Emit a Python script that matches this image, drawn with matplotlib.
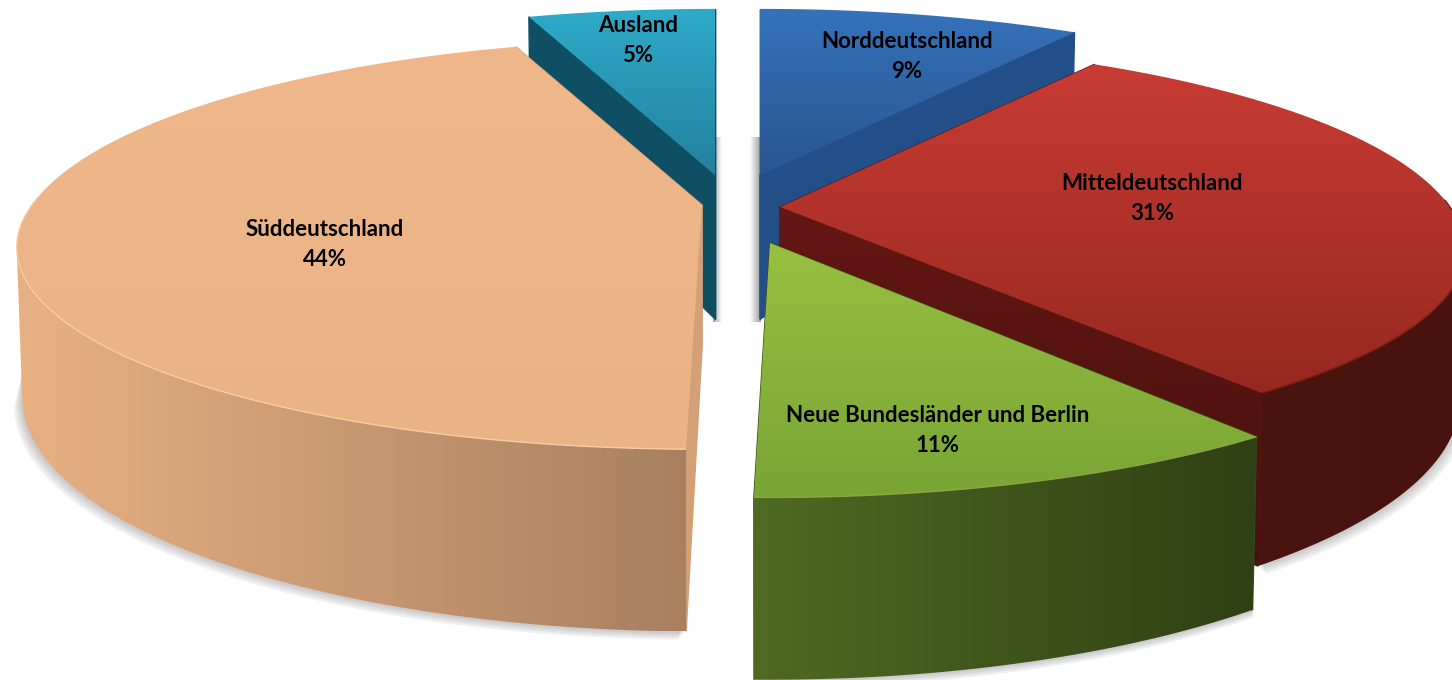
import numpy as np
import matplotlib.pyplot as plt
from matplotlib.colors import LinearSegmentedColormap
from matplotlib.patches import Polygon

# chart values, clockwise from 12 o'clock (slice sizes before rounding, printed percents)
names = ['Norddeutschland', 'Mitteldeutschland', 'Neue Bundesländer und Berlin', 'Süddeutschland', 'Ausland']
values = [9.3, 30.5, 10.5, 44.3, 5.4]
percents = [9, 31, 11, 44, 5]

# look of each slice: exploded offset in px, gradients, label centre
offset_x = [20, 40, 30, -38, -25]
offset_y = [-30, 2, 38, 0, -30]
stretch_x = [1, 1, 1.01, 1, 1]
stretch_y = [1, 0.96, 1, 0.96, 1]
top_colors = [('#3672bb', '#28568f'), ('#c83c34', '#96281f'), ('#98c040', '#78a535'), ('#efb78a', '#eab385'), ('#2fabca', '#23809e')]
side_colors = [('#1e5a96', '#1e4f86'), ('#4a1410', '#48120e'), ('#4f6a22', '#2f4014'), ('#e8b183', '#a88060'), ('#0f5066', '#0f5066')]
cut_colors = [('#234f88', '#234f88'), ('#641714', '#46110d'), ('#3a4e18', '#3a4e18'), ('#d4a075', '#d4a075'), ('#0f4f64', '#0f4f64')]
rim_colors = ['#3672bb', '#7a1e18', '#8aa840', '#f8cc9e', '#2fabca']
label_x = [907, 1152, 938, 325, 638]
label_y = [42, 183, 415, 229, 26]
draw_order = [4, 0, 3, 1, 2]

W, H = 1452, 680
cx, cy = 740, 205
rx, ry, persp = 670, 201, 0.21
depth = 144
# angles where the rim turns back, the wall is only seen between them
wall_from = np.arccos(-persp)
wall_to = 2*np.pi - wall_from


def project(theta, i, z=0.0):
    X, Y = np.sin(theta), np.cos(theta)
    w = 1 + persp*Y
    shrink = 1 - 0.008*z
    # the front half of some slices is a bit shorter than the back
    sy = np.where(Y < 0, stretch_y[i], 1.0)
    px = offset_x[i] + cx + stretch_x[i]*shrink*rx*X/w
    py = offset_y[i] + cy - sy*ry*Y/w + z*depth/w
    return px, py


def apex(i, z=0.0):
    return np.array([[offset_x[i] + cx, offset_y[i] + cy + z*depth]])


def grad_fill(ax, pts, c0, c1, horizontal=False, zorder=1):
    x0, y0 = pts.min(axis=0)
    x1, y1 = pts.max(axis=0)
    cmap = LinearSegmentedColormap.from_list('g', [c0, c1])
    ramp = np.linspace(0, 1, 256)
    ramp = ramp[None, :] if horizontal else ramp[:, None]
    im = ax.imshow(ramp, cmap=cmap, extent=[x0, x1, y1, y0], aspect='auto', zorder=zorder, interpolation='bilinear')
    im.set_clip_path(Polygon(pts, closed=True, transform=ax.transData))


def rim(t0, t1, i, z=0.0):
    t = np.linspace(t0, t1, 120)
    return np.column_stack(project(t, i, z))


fig = plt.figure(figsize=(W/100, H/100), dpi=100)
ax = fig.add_axes([0, 0, 1, 1])
ax.axis('off')

edges = np.cumsum([0] + values) / sum(values) * 2*np.pi

# soft shadows under the front of the pie
for grow in [8, 6, 4, 2]:
    for i in [1, 2, 3]:
        low = rim(max(edges[i], wall_from), min(edges[i+1], wall_to), i, 1)
        inner = low - [0, 25]
        out = low + [-grow*(i == 3) + grow*(i == 1), grow]
        ax.add_patch(Polygon(np.vstack([inner, out[::-1]]), closed=True, fc='#606060', ec='none', alpha=0.09, zorder=1))

# grey bands behind the gap
grad_fill(ax, np.array([[713, 137], [722, 137], [722, 322], [713, 322]]), '#a0a0a0', '#ffffff', True, 1)
grad_fill(ax, np.array([[750, 137], [761, 137], [761, 322], [750, 322]]), '#ffffff', '#9a9a9a', True, 1)

z = 2
for i in draw_order:
    t0, t1 = edges[i], edges[i+1]
    # two cut faces
    for t in (t0, t1):
        p_top = np.array(project(t, i), dtype=float).reshape(1, 2)
        p_low = np.array(project(t, i, 1), dtype=float).reshape(1, 2)
        face = np.vstack([apex(i), p_top, p_low, apex(i, 1)])
        ax.add_patch(Polygon(face, closed=True, fc='none', ec=cut_colors[i][0], lw=1, zorder=z))
        grad_fill(ax, face, cut_colors[i][0], cut_colors[i][1], False, z)
    # outer wall
    wall_t0, wall_t1 = max(t0, wall_from), min(t1, wall_to)
    if wall_t1 > wall_t0:
        wall = np.vstack([rim(wall_t0, wall_t1, i), rim(wall_t0, wall_t1, i, 1)[::-1]])
        grad_fill(ax, wall, side_colors[i][0], side_colors[i][1], True, z + 0.1)
    # top surface
    top_pts = rim(t0, t1, i)
    surface = np.vstack([apex(i), top_pts])
    grad_fill(ax, surface, top_colors[i][0], top_colors[i][1], False, z + 0.2)
    # thin bevel on the front edge only
    angles = np.linspace(t0, t1, 120)
    front = np.where(np.cos(angles) < 0.05, top_pts[:, 1], np.nan)
    ax.plot(top_pts[:, 0], front, color=rim_colors[i], lw=1.0, zorder=z + 0.3, solid_capstyle='butt')
    z += 1

for i in range(len(names)):
    ax.text(label_x[i], label_y[i], names[i], ha='center', va='center', fontsize=16, fontweight='bold', family='Lato', color='black', zorder=20)
    ax.text(label_x[i], label_y[i] + 30, f'{percents[i]}%', ha='center', va='center', fontsize=16, fontweight='bold', family='Lato', color='black', zorder=20)

ax.set_xlim(0, W)
ax.set_ylim(H, 0)
fig.savefig('out.png', dpi=100)
